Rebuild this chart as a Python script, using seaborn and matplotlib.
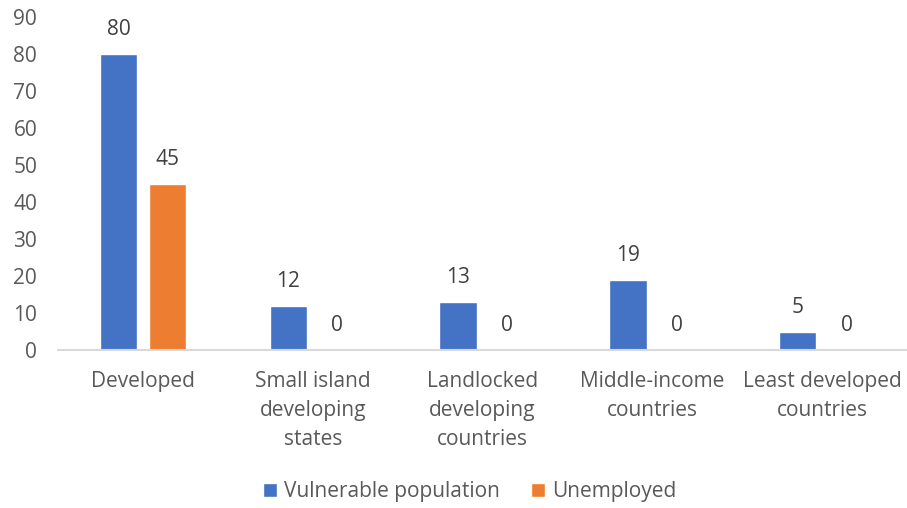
import pandas as pd
import matplotlib.pyplot as plt
import seaborn as sns

# Chart values
categories = ["Developed", "Small island\ndeveloping\nstates", "Landlocked\ndeveloping\ncountries",
              "Middle-income\ncountries", "Least developed\ncountries"]
vulnerable = [80, 12, 13, 19, 5]
unemployed = [45, 0, 0, 0, 0]
series_names = ["Vulnerable population", "Unemployed"]

df = pd.DataFrame({
    "category": categories * 2,
    "value": vulnerable + unemployed,
    "series": [series_names[0]] * len(categories) + [series_names[1]] * len(categories),
})

sns.set_style("white")
plt.rcParams["font.family"] = ["Open Sans", "DejaVu Sans"]
text_color = "#595959"
fs = 15

fig = plt.figure(figsize=(9.07, 5.08), dpi=100)
ax = fig.add_axes([0.064, 0.311, 0.936, 0.6555])

sns.barplot(data=df, x="category", y="value", hue="series",
            palette=["#4472C4", "#ED7D31"], width=0.576, gap=0.236,
            saturation=1, ax=ax, legend=True)

for cont in ax.containers:
    ax.bar_label(cont, padding=10, fontsize=fs, color="#404040")

ax.set_ylim(0, 90)
ax.set_yticks(range(0, 91, 10))
ax.set_xlim(-0.5, len(categories) - 0.5)
ax.set_xlabel("")
ax.set_ylabel("")
ax.tick_params(axis="both", length=0, labelsize=fs, colors=text_color)
ax.tick_params(axis="x", pad=15)
ax.tick_params(axis="y", pad=15)
for lbl in ax.get_xticklabels():
    lbl.set_linespacing(1.5)

for side in ["left", "right", "top"]:
    ax.spines[side].set_visible(False)
ax.spines["bottom"].set_color("#D9D9D9")
ax.spines["bottom"].set_linewidth(1.5)

handles, labels = ax.get_legend_handles_labels()
ax.legend(handles, labels, loc="center", bbox_to_anchor=(0.518, 0.032),
          bbox_transform=fig.transFigure, ncol=2, frameon=False,
          fontsize=fs, labelcolor=text_color, handlelength=0.65, handleheight=0.65,
          handletextpad=0.35, columnspacing=1.5)

fig.savefig("out.png", dpi=100)
